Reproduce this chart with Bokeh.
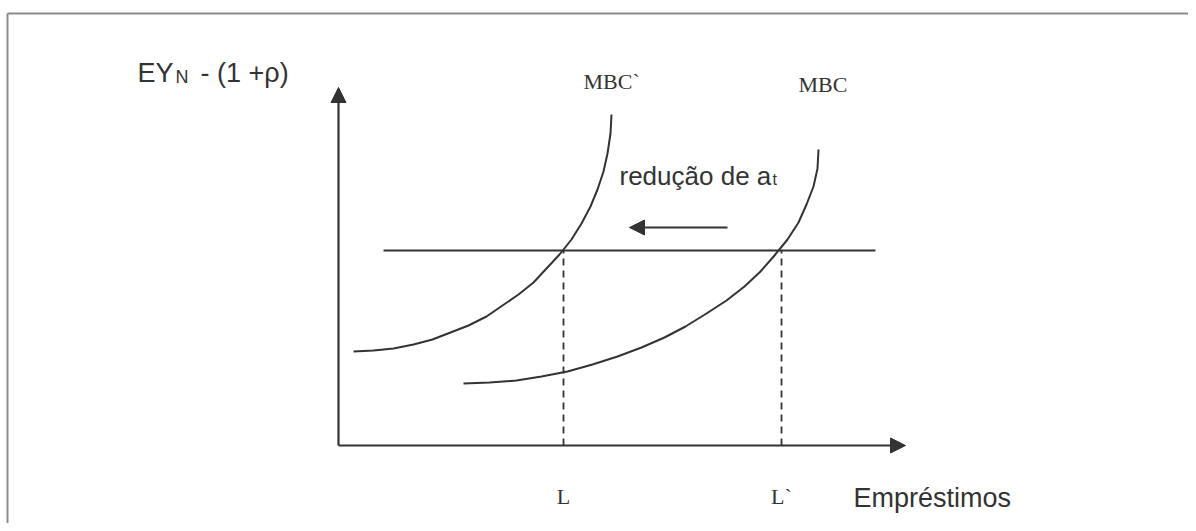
from bokeh.plotting import figure
from bokeh.models import Range1d, Arrow, NormalHead
from bokeh.core.properties import value
from bokeh.embed import file_html
from bokeh.resources import INLINE

# ---- data (schematic units, origin at the axes' corner) ----
# MBC` curve (after reduction of a_t)
mbc_shift_x = [15, 35, 55, 75, 94, 112, 130, 148, 164, 180, 195, 208, 221, 233, 243, 252, 259, 265, 269, 272, 273]
mbc_shift_y = [94, 95, 97, 101, 106, 113, 120, 129, 140, 151, 163, 177, 191, 206, 222, 239, 256, 274, 292, 312, 331]
# MBC curve (original)
mbc_x = [125, 151, 178, 203, 229, 254, 279, 303, 326, 347, 368, 388, 406, 422, 436, 449, 460, 468, 475, 479, 480]
mbc_y = [62, 63, 65, 69, 74, 81, 89, 98, 108, 119, 132, 145, 159, 174, 190, 206, 223, 241, 259, 277, 296]
# horizontal line EY_N - (1+rho)
rate_level = 195
rate_x = [45, 537]
# equilibrium loans
loan_values = [225, 443]
loan_labels = ["L", "L`"]
# axes extents
x_axis_end = 567
y_axis_end = 358
# shift arrow
shift_arrow_x = [389, 291]
shift_arrow_y = 218

INK = "#333333"
SANS = "Liberation Sans"
SERIF = "Liberation Serif"

X0, X1 = -338, 850
Y0, Y1 = -78, 445

p = figure(width=1188, height=523, output_backend="svg", toolbar_location=None,
           x_range=Range1d(X0, X1), y_range=Range1d(Y0, Y1),
           min_border=0, outline_line_color=None, background_fill_color="white",
           border_fill_color="white")
p.xaxis.visible = False
p.yaxis.visible = False
p.grid.visible = False

# outer frame (top and left edges visible)
FRAME_L, FRAME_T = -331, 432
p.line(x=[FRAME_L, X1], y=[FRAME_T, FRAME_T], line_color="#8c8c8c", line_width=2)
p.line(x=[FRAME_L, FRAME_L], y=[Y0, FRAME_T], line_color="#8c8c8c", line_width=2)

# axes with arrowheads
p.add_layout(Arrow(end=NormalHead(size=15, fill_color=INK, line_color=INK, line_width=1),
                   x_start=0, y_start=0, x_end=0, y_end=y_axis_end,
                   line_color=INK, line_width=2.2))
p.add_layout(Arrow(end=NormalHead(size=15, fill_color=INK, line_color=INK, line_width=1),
                   x_start=0, y_start=0, x_end=x_axis_end, y_end=0,
                   line_color=INK, line_width=2.2))

# horizontal line
p.line(x=rate_x, y=[rate_level, rate_level], line_color=INK, line_width=2)

# curves
p.line(x=mbc_shift_x, y=mbc_shift_y, line_color=INK, line_width=2)
p.line(x=mbc_x, y=mbc_y, line_color=INK, line_width=2)

# dashed verticals
for lv in loan_values:
    p.line(x=[lv, lv], y=[0, rate_level], line_color=INK, line_width=1.8, line_dash="7 5")

# shift arrow
p.add_layout(Arrow(end=NormalHead(size=15, fill_color=INK, line_color=INK, line_width=1),
                   x_start=shift_arrow_x[0], y_start=shift_arrow_y,
                   x_end=shift_arrow_x[1], y_end=shift_arrow_y,
                   line_color=INK, line_width=2))

def txt(x, y, s, size, font, align="left"):
    p.text(x=[x], y=[y], text=[s], text_font=value(font), text_font_size=f"{size}px",
           text_color=INK, text_align=align, text_baseline="alphabetic")

# y-axis label EY_N - (1 +rho)
txt(-201, 373, "EY", 27, SANS)
txt(-163, 369, "N", 18, SANS)
txt(-138, 373, "- (1 +ρ)", 27, SANS)

# curve labels
txt(245, 364, "MBC`", 22, SERIF)
txt(460, 361, "MBC", 22, SERIF)

# shift text
txt(281, 270, "redução de a", 26, SANS)
txt(434, 266, "t", 16, SANS)

# loan labels
for lv, lab in zip(loan_values, loan_labels):
    txt(lv, -51, lab, 22, SERIF, align="center")

# x-axis label
txt(515, -52, "Empréstimos", 27, SANS)

open("out.html", "w").write(file_html(p, INLINE))
